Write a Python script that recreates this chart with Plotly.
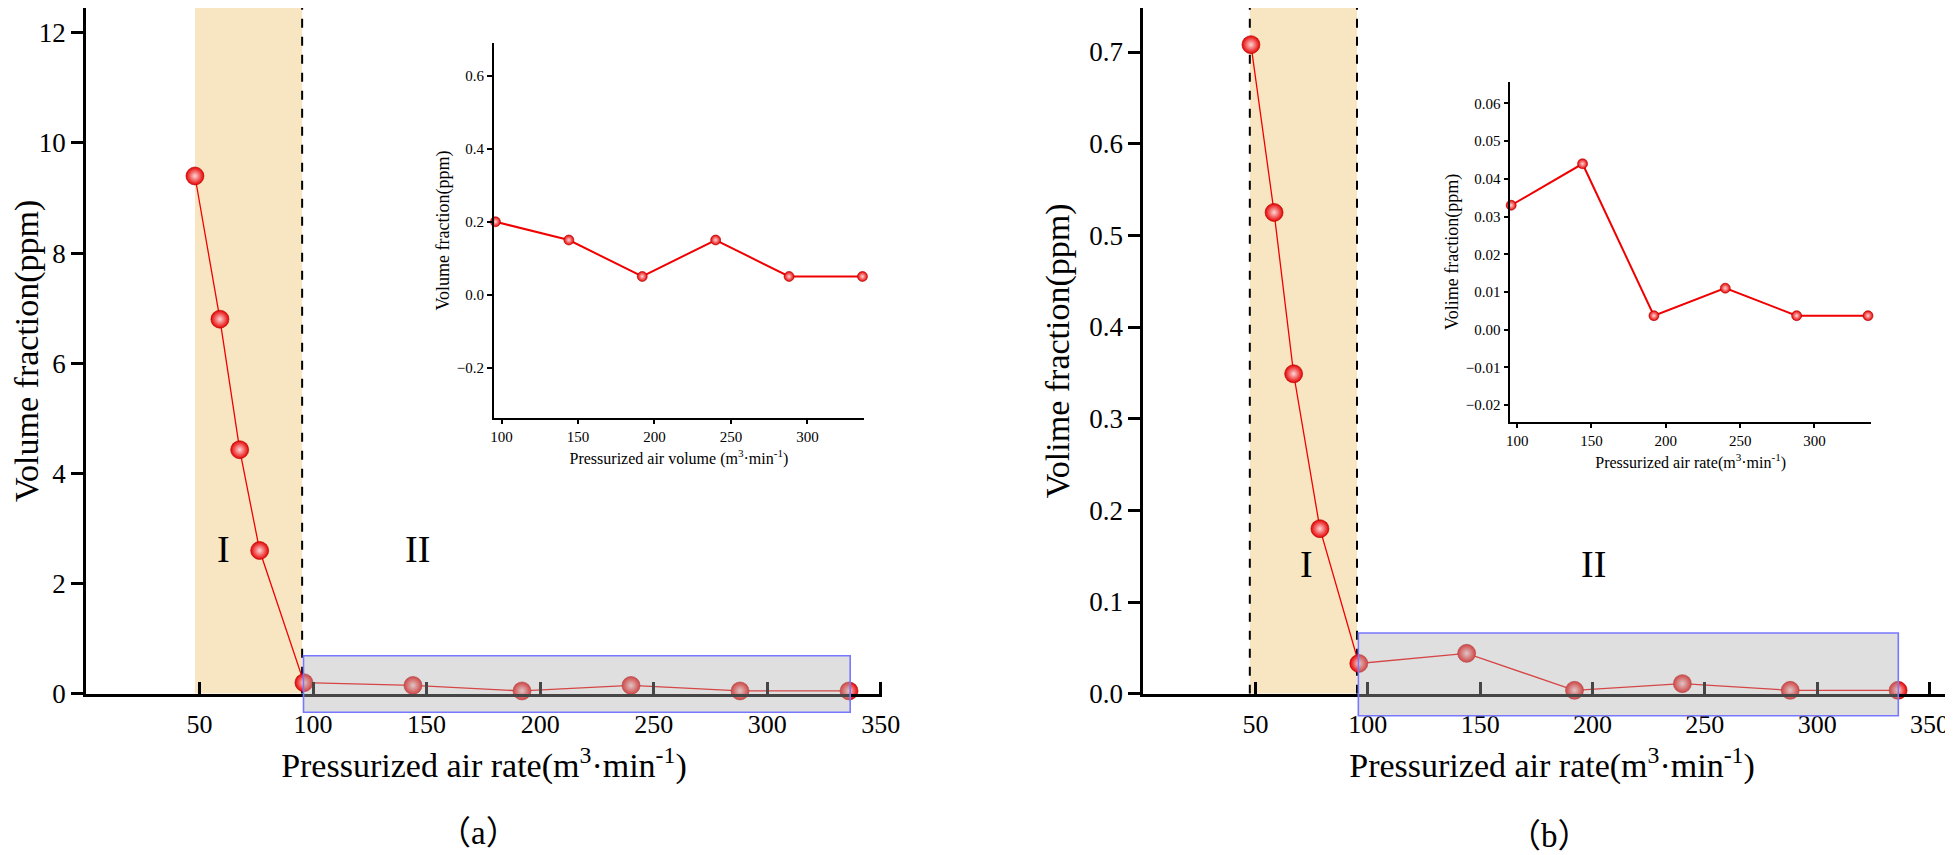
import plotly.graph_objects as go

FONT = "Liberation Serif, Times New Roman, Noto Sans CJK SC, serif"

# ---------------- data ----------------
# panel (a)
a_stage1_x = [48, 59, 67.7, 76.5]
a_stage1_y = [9.4, 6.8, 4.43, 2.6]
stage2_x = [96, 144, 192, 240, 288, 336]
a_stage2_y = [0.2, 0.15, 0.05, 0.15, 0.05, 0.05]

# panel (b)
b_stage1_x = [48, 58.3, 67, 78.7]
b_stage1_y = [0.708, 0.525, 0.349, 0.180]
b_stage2_y = [0.033, 0.044, 0.0037, 0.011, 0.0037, 0.0037]

# tick labels
main_xticks = [50, 100, 150, 200, 250, 300, 350]
inset_xticks = [100, 150, 200, 250, 300]
a_main_yticks = [0, 2, 4, 6, 8, 10, 12]
b_main_yticks = [0.0, 0.1, 0.2, 0.3, 0.4, 0.5, 0.6, 0.7]
a_inset_yticks = [-0.2, 0.0, 0.2, 0.4, 0.6]
b_inset_yticks = [-0.02, -0.01, 0.0, 0.01, 0.02, 0.03, 0.04, 0.05, 0.06]

# axis ranges
a_main_xrange = [0, 350.5]
a_main_yrange = [0, 12.45]
b_main_xrange = [0, 364]
b_main_yrange = [0, 0.748]
a_inset_xrange = [95, 337]
a_inset_yrange = [-0.338, 0.69]
b_inset_xrange = [95.5, 338]
b_inset_yrange = [-0.0245, 0.0658]

# stage regions and zoom boxes
a_band = [48, 95.2]
b_band = [47.5, 95.2]
a_box_x = [95.8, 336.5]
a_box_y = [-0.336, 0.69]
b_box_x = [95.8, 336.1]
b_box_y = [-0.024, 0.0662]

# label positions (data coords)
a_label_I = (60.6, 2.63)
a_label_II = (145.8, 2.63)
b_label_I = (72.9, 0.141)
b_label_II = (200.4, 0.141)

# ---------------- layout geometry ----------------
A_main_dx, A_main_dy = [0.0399, 0.4475], [0.198, 1.0]
B_main_dx, B_main_dy = [0.5812, 1.0], [0.198, 1.0]
A_in_dx, A_in_dy = [0.2488, 0.4383], [0.5205, 0.959]
B_in_dx, B_in_dy = [0.7693, 0.9539], [0.5158, 0.9139]

RED = "#f00000"


def paper_y(v, rng, dom):
    return dom[0] + (v - rng[0]) / (rng[1] - rng[0]) * (dom[1] - dom[0])


def marker(size):
    return dict(size=size, color="#e60000",
                gradient=dict(type="radial", color="#ffd6d6"),
                line=dict(width=0.6, color="#b00000"))


fig = go.Figure()

fig.add_trace(go.Scatter(x=a_stage1_x + stage2_x, y=a_stage1_y + a_stage2_y,
                         mode="lines+markers", line=dict(color=RED, width=1.3),
                         marker=marker(18), xaxis="x", yaxis="y",
                         cliponaxis=False, showlegend=False))
fig.add_trace(go.Scatter(x=b_stage1_x + stage2_x, y=b_stage1_y + b_stage2_y,
                         mode="lines+markers", line=dict(color=RED, width=1.3),
                         marker=marker(18), xaxis="x2", yaxis="y2",
                         cliponaxis=False, showlegend=False))
fig.add_trace(go.Scatter(x=stage2_x, y=a_stage2_y,
                         mode="lines+markers", line=dict(color=RED, width=2),
                         marker=marker(10), xaxis="x3", yaxis="y3",
                         cliponaxis=False, showlegend=False))
fig.add_trace(go.Scatter(x=stage2_x, y=b_stage2_y,
                         mode="lines+markers", line=dict(color=RED, width=2),
                         marker=marker(10), xaxis="x4", yaxis="y4",
                         cliponaxis=False, showlegend=False))

TAN = "#f8e6c2"
shapes = []
# panel (a)
shapes.append(dict(type="rect", xref="x", yref="y", x0=a_band[0], x1=a_band[1],
                   y0=a_main_yrange[0], y1=a_main_yrange[1], fillcolor=TAN,
                   line=dict(width=0), layer="below"))
shapes.append(dict(type="line", xref="x", yref="y", x0=a_band[1], x1=a_band[1],
                   y0=a_main_yrange[0], y1=a_main_yrange[1],
                   line=dict(color="black", width=2, dash="dash"), layer="below"))
shapes.append(dict(type="rect", xref="x", yref="paper", x0=a_box_x[0], x1=a_box_x[1],
                   y0=paper_y(a_box_y[0], a_main_yrange, A_main_dy),
                   y1=paper_y(a_box_y[1], a_main_yrange, A_main_dy),
                   fillcolor="rgba(175,175,175,0.40)",
                   line=dict(color="#7878ff", width=1.6), layer="above"))
# panel (b)
shapes.append(dict(type="rect", xref="x2", yref="y2", x0=b_band[0], x1=b_band[1],
                   y0=b_main_yrange[0], y1=b_main_yrange[1], fillcolor=TAN,
                   line=dict(width=0), layer="below"))
for xv in b_band:
    shapes.append(dict(type="line", xref="x2", yref="y2", x0=xv, x1=xv,
                       y0=b_main_yrange[0], y1=b_main_yrange[1],
                       line=dict(color="black", width=2, dash="dash"), layer="below"))
shapes.append(dict(type="rect", xref="x2", yref="paper", x0=b_box_x[0], x1=b_box_x[1],
                   y0=paper_y(b_box_y[0], b_main_yrange, B_main_dy),
                   y1=paper_y(b_box_y[1], b_main_yrange, B_main_dy),
                   fillcolor="rgba(175,175,175,0.40)",
                   line=dict(color="#7878ff", width=1.6), layer="above"))

xtitle = "Pressurized air rate(m<sup>3</sup>·min<sup>-1</sup>)"


def main_x(dom, rng, anchor):
    return dict(domain=dom, range=rng, anchor=anchor, showgrid=False, zeroline=False,
                showline=True, linecolor="black", linewidth=2.5,
                ticks="inside", ticklen=12, tickwidth=2.5, tickcolor="black",
                tickvals=main_xticks, ticklabelstandoff=5,
                tickfont=dict(family=FONT, size=26, color="black"),
                title=dict(text=xtitle, font=dict(family=FONT, size=34, color="black"),
                           standoff=16),
                automargin=False)


def main_y(dom, rng, anchor, ticks, fmt, title):
    return dict(domain=dom, range=rng, anchor=anchor, showgrid=False, zeroline=False,
                showline=True, linecolor="black", linewidth=2.5,
                ticks="outside", ticklen=12, tickwidth=2.5, tickcolor="black",
                tickvals=ticks, tickformat=fmt,
                tickfont=dict(family=FONT, size=27, color="black"),
                title=dict(text=title, font=dict(family=FONT, size=34, color="black"),
                           standoff=10),
                automargin=False)


def inset_x(dom, rng, anchor, title):
    return dict(domain=dom, range=rng, anchor=anchor, showgrid=False, zeroline=False,
                showline=True, linecolor="black", linewidth=1.7,
                ticks="outside", ticklen=4, tickwidth=1.5, tickcolor="black",
                tickvals=inset_xticks,
                tickfont=dict(family=FONT, size=15, color="black"),
                title=dict(text=title, font=dict(family=FONT, size=16, color="black"),
                           standoff=9),
                automargin=False)


def inset_y(dom, rng, anchor, ticks, fmt, title):
    return dict(domain=dom, range=rng, anchor=anchor, showgrid=False, zeroline=False,
                showline=True, linecolor="black", linewidth=1.7,
                ticks="outside", ticklen=5, tickwidth=1.5, tickcolor="black",
                tickvals=ticks, tickformat=fmt,
                tickfont=dict(family=FONT, size=15, color="black"),
                title=dict(text=title, font=dict(family=FONT, size=18, color="black"),
                           standoff=3),
                automargin=False)


CJK = "<span style='font-family:Noto Sans CJK SC'>{}</span>"

annotations = []
for (lx, ly), txt, xr, yr in [(a_label_I, "I", "x", "y"), (a_label_II, "II", "x", "y"),
                              (b_label_I, "I", "x2", "y2"), (b_label_II, "II", "x2", "y2")]:
    annotations.append(dict(x=lx, y=ly, xref=xr, yref=yr, text=txt, showarrow=False,
                            font=dict(family=FONT, size=38, color="black")))
annotations.append(dict(x=470 / 1953, y=1 - 822 / 855, xref="paper", yref="paper",
                        xanchor="center", yanchor="middle",
                        text=CJK.format("（") + "a" + CJK.format("）"), showarrow=False,
                        font=dict(family=FONT, size=33, color="black")))
annotations.append(dict(x=1541.6 / 1953, y=1 - 825 / 855, xref="paper", yref="paper",
                        xanchor="center", yanchor="middle",
                        text=CJK.format("（") + "b" + CJK.format("）"), showarrow=False,
                        font=dict(family=FONT, size=33, color="black")))

fig.update_layout(
    width=1953, height=855,
    margin=dict(l=0, r=0, t=0, b=0),
    paper_bgcolor="white", plot_bgcolor="rgba(0,0,0,0)",
    showlegend=False,
    xaxis=main_x(A_main_dx, a_main_xrange, "y"),
    yaxis=main_y(A_main_dy, a_main_yrange, "x", a_main_yticks, "d", "Volume fraction(ppm)"),
    xaxis2=main_x(B_main_dx, b_main_xrange, "y2"),
    yaxis2=main_y(B_main_dy, b_main_yrange, "x2", b_main_yticks, ".1f", "Volime fraction(ppm)"),
    xaxis3=inset_x(A_in_dx, a_inset_xrange, "y3",
                   "Pressurized air volume (m<sup>3</sup>·min<sup>-1</sup>)"),
    yaxis3=inset_y(A_in_dy, a_inset_yrange, "x3", a_inset_yticks, ".1f", "Volume fraction(ppm)"),
    xaxis4=inset_x(B_in_dx, b_inset_xrange, "y4", xtitle),
    yaxis4=inset_y(B_in_dy, b_inset_yrange, "x4", b_inset_yticks, ".2f", "Volime fraction(ppm)"),
    shapes=shapes,
    annotations=annotations,
)

fig.write_html("out.html")
